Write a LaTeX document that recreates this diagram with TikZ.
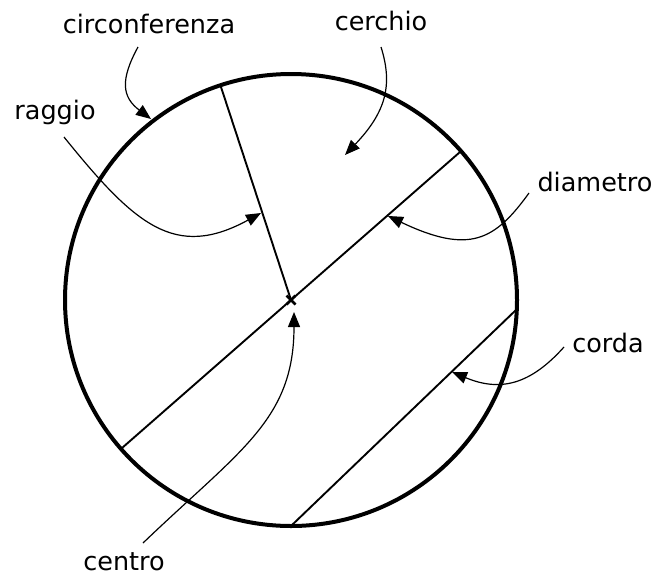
\documentclass[tikz,border=0pt]{standalone}
\usepackage{fontspec}
\setmainfont{DejaVu Sans}
\usetikzlibrary{arrows.meta}
\tikzset{
  lbl/.style={anchor=base, inner sep=0pt, font=\fontsize{25.5}{30}\selectfont},
  rim/.style={line width=4pt},
  seg/.style={line width=1.9pt},
  pointer/.style={line width=1.2pt, -{Triangle[length=15pt,width=12pt]}, shorten >=0pt},
}
\begin{document}
\begin{tikzpicture}[x=1pt,y=-1pt]
\useasboundingbox (0,0) rectangle (652,576);
% geometry
\coordinate (O) at (291,300);
\coordinate (R) at (220,84);
\coordinate (D1) at (460,152);
\coordinate (D2) at (122,448);
\coordinate (C1) at (517,309);
\coordinate (C2) at (292,525);
\draw[rim] (O) circle (226);
\draw[seg] (O) -- (R);
\draw[seg] (D1) -- (D2);
\draw[seg] (C1) -- (C2);
\draw[line width=2.6pt] (286.5,295.5) -- (295.5,304.5) (286.5,304.5) -- (295.5,295.5);
% labels
\node[lbl] (circ) at (149,33) {circonferenza};
\node[lbl] (ragg) at (55,119) {raggio};
\node[lbl] (cerc) at (381,30) {cerchio};
\node[lbl] (diam) at (595,191) {diametro};
\node[lbl] (cord) at (608,352) {corda};
\node[lbl] (cent) at (124,570) {centro};
% pointer starts and tips
\coordinate (sCirc) at (138,47);
\coordinate (tCirc) at (151,119);
\coordinate (sRagg) at (64,137);
\coordinate (tRagg) at (261,213);
\coordinate (sCerc) at (381,47);
\coordinate (tCerc) at (345,155);
\coordinate (sDiam) at (529,193);
\coordinate (tDiam) at (388,216);
\coordinate (sCord) at (564,347);
\coordinate (tCord) at (452,372);
\coordinate (sCent) at (143,543);
\coordinate (tCent) at (294,312);
\draw[pointer] (sCirc) .. controls (120,80) and (122,97) .. (tCirc);
\draw[pointer] (sRagg) .. controls (135,225) and (175,260) .. (tRagg);
\draw[pointer] (sCerc) .. controls (393,85) and (386,112) .. (tCerc);
\draw[pointer] (sDiam) .. controls (495,240) and (470,255) .. (tDiam);
\draw[pointer] (sCord) .. controls (530,385) and (500,392) .. (tCord);
\draw[pointer] (sCent) .. controls (240,450) and (294,420) .. (tCent);
\end{tikzpicture}
\end{document}
